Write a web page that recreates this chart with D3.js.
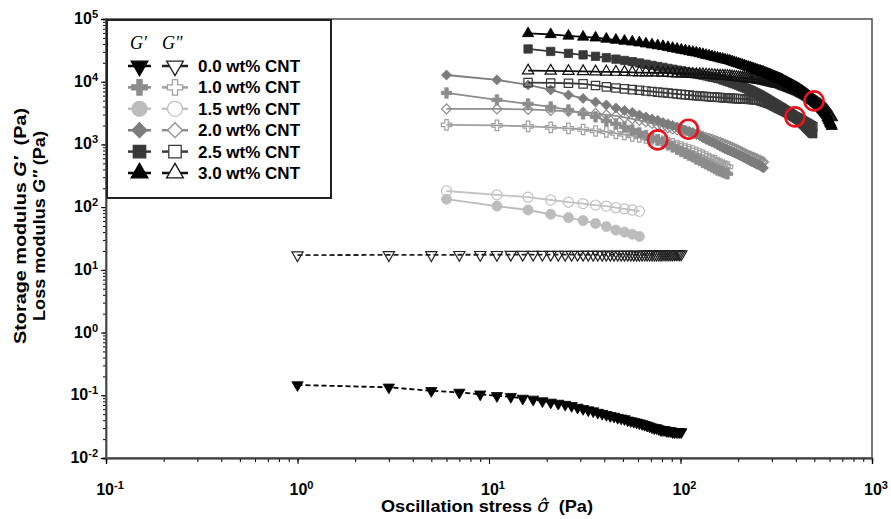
<!DOCTYPE html>
<meta charset="utf-8">
<script src="https://d3js.org/d3.v7.min.js"></script>
<style>
  body { margin: 0; background: #fff; }
  text { font-family: "Liberation Sans", Arial, sans-serif; }
</style>
<div id="chart"></div>
<script>

// ---- data ----
const concLabels = ["0.0 wt% CNT", "1.0 wt% CNT", "1.5 wt% CNT", "2.0 wt% CNT", "2.5 wt% CNT", "3.0 wt% CNT"];

// stress ramp of the neat resin (Pa)
const stressNeat = [1,3,5,7,9,11,13,15,17,19,21,23,25,27,29,31,33,35,37,39,41,43,45,47,49,51,53,55,57,59,61,63,65,67,69,71,73,75,77,79,81,83,85,87,89,91,93,95,97,99,101];
// stress ramp of the filled samples (Pa); each sample starts at its first stress
const stressCnt = [6,11,16,21,26,31,36,41,46,51,56,61,66,71,76,81,86,91,96,101,106,111,116,121,126,131,136,141,146,151,156,161,166,171,176,181,186,191,196,201,206,211,216,221,226,231,236,241,246,251,256,261,266,271,276,281,286,291,296,301,306,311,316,321,326,331,336,341,346,351,356,361,366,371,376,381,386,391,396,401,406,411,416,421,426,431,436,441,446,451,456,461,466,471,476,481,486,491,496,501,506,511,516,521,526,531,536,541,546,551,556,561,566,571,576,581,586,591,596,601,606,611,616];
const firstStress = [1, 6, 6, 6, 16, 16];

const gp00 = [0.146,0.134,0.118,0.111,0.104,0.098,0.095,0.089,0.086,0.081,0.077,0.074,0.071,0.068,0.064,0.061,0.058,0.056,0.053,0.051,0.049,0.047,0.046,0.044,0.043,0.042,0.040,0.039,0.038,0.037,0.036,0.035,0.034,0.033,0.032,0.031,0.030,0.030,0.029,0.028,0.028,0.028,0.027,0.027,0.027,0.026,0.026,0.026,0.026,0.026,0.026];
const gpp00 = [17.2,17.3,17.3,17.4,17.4,17.4,17.5,17.5,17.5,17.5,17.5,17.5,17.5,17.5,17.5,17.5,17.5,17.5,17.5,17.5,17.5,17.5,17.5,17.5,17.5,17.5,17.5,17.5,17.5,17.5,17.5,17.5,17.6,17.6,17.6,17.6,17.6,17.6,17.6,17.6,17.7,17.7,17.7,17.7,17.7,17.7,17.8,17.8,17.8,17.8,17.8];

const gp10 = [6620,5130,4430,3960,3550,3070,2750,2370,2120,1900,1700,1530,1390,1270,1180,1080,982,912,832,773,718,668,632,587,556,516,489,462,438,414,392,378,364,351,339];
const gpp10 = [2050,2010,1940,1870,1800,1730,1640,1580,1500,1440,1370,1320,1270,1220,1180,1120,1060,1020,964,912,863,817,787,745,705,668,632,598,566,546,516,489,471,454,438];

const gp15 = [134,104,90,77,68,61,55,49,43,40,37,34];
const gpp15 = [181,157,144,130,120,114,108,104,98,94,90,86];

const gp20 = [12800,10700,8890,7400,6150,5420,4760,4270,3820,3480,3240,2950,2750,2550,2420,2240,2120,2010,1900,1800,1700,1610,1530,1440,1370,1270,1200,1140,1080,1040,982,929,895,848,817,787,759,731,705,680,656,632,609,587,566,546,526,516,498,480,471,454,438,422];
const gpp20 = [3680,3680,3620,3480,3360,3240,3120,2950,2850,2700,2550,2420,2290,2160,2050,1940,1830,1770,1700,1640,1610,1580,1530,1470,1420,1340,1290,1250,1200,1160,1120,1080,1040,1000,964,929,895,863,832,802,773,745,718,693,668,656,632,621,598,587,566,556,536,526];

const gp25 = [33300,30400,28300,26800,25400,24100,22900,21800,20900,19900,19000,18200,17500,16900,16300,15800,15300,14900,14500,14100,13700,13300,13000,12700,12400,12100,11800,11600,11300,11100,10700,10400,10100,9840,9550,9310,9020,8750,8490,8240,8020,7780,7590,7380,7140,6920,6700,6500,6300,6120,5900,5710,5530,5350,5180,5020,4850,4710,4570,4440,4310,4190,4060,3960,3850,3740,3640,3540,3440,3350,3260,3170,3080,2990,2910,2820,2750,2670,2590,2520,2430,2370,2290,2200,2120,2060,1990,1910,1850,1790,1730,1670,1630,1570,1520,1480];
const gpp25 = [9680,9550,9460,9230,8710,8280,7930,7690,7480,7300,7130,6980,6820,6700,6580,6470,6370,6280,6190,6110,6030,5960,5900,5850,5810,5750,5710,5680,5640,5600,5560,5520,5500,5460,5430,5410,5380,5360,5330,5310,5280,5260,5250,5220,5200,5180,5150,5140,5080,4990,4890,4800,4710,4620,4540,4470,4370,4250,4150,4050,3940,3850,3770,3680,3600,3520,3440,3370,3290,3220,3150,3080,3010,2940,2880,2810,2750,2700,2650,2600,2550,2510,2450,2400,2350,2300,2260,2210,2170,2130,2090,2050,2010,1980,1950,1910];

const gp30 = [58900,56800,53800,51800,50200,48000,46100,44500,43200,41900,40300,38900,37700,36600,35300,34200,33100,32100,31300,30400,29600,28900,28100,27300,26500,25900,25200,24600,24000,23400,23000,22400,22000,21500,20900,20400,19800,19300,18900,18400,18000,17500,17100,16800,16400,16100,15700,15400,15100,14800,14500,14300,13900,13600,13300,13000,12800,12500,12200,12000,11700,11500,11300,11100,10800,10600,10300,10100,9840,9620,9420,9200,9000,8830,8650,8450,8280,8110,7960,7760,7570,7400,7210,7050,6870,6710,6580,6410,6250,6070,5900,5730,5580,5430,5280,5140,4990,4880,4720,4580,4450,4320,4190,4070,3950,3830,3700,3590,3470,3370,3250,3150,3050,2880,2700,2560,2420,2290,2170,2070,1950];
const gpp30 = [15000,14900,14700,14600,14500,14400,14300,14200,14100,14000,14000,13900,13900,13800,13700,13600,13500,13400,13400,13300,13200,13100,13100,13000,12900,12800,12700,12600,12500,12400,12400,12300,12200,12200,12000,11900,11800,11700,11600,11500,11400,11300,11200,11100,11000,11000,10900,10800,10700,10700,10500,10400,10300,10100,10000,9890,9770,9660,9550,9440,9350,9250,9140,9060,8890,8750,8590,8450,8320,8170,8050,7930,7800,7690,7570,7450,7330,7230,7130,7000,6850,6750,6620,6500,6380,6280,6180,6070,5930,5790,5660,5530,5420,5310,5200,5090,4980,4880,4780,4680,4590,4500,4420,4330,4240,4150,4050,3960,3860,3780,3690,3610,3540,3410,3280,3170,3060,2960,2860,2780,2690];

// G' = G'' crossover points marked with red rings
const crossStress = [76, 110, 396, 498];
const crossModulus = [1180, 1750, 2750, 4940];

const xMajor = [0.1, 1, 10, 100, 1000];
const yMajor = [0.01, 0.1, 1, 10, 100, 1000, 10000, 100000];

// ---- styles ----
const styles = [
  {shape: "tdown", colorP: "#000", colorPP: "#222", dash: "5,3", size: 55},
  {shape: "cross", colorP: "#8c8c8c", colorPP: "#a0a0a0", dash: null, size: 60},
  {shape: "circle", colorP: "#bcbcbc", colorPP: "#c2c2c2", dash: null, size: 80},
  {shape: "diamond", colorP: "#7c7c7c", colorPP: "#8e8e8e", dash: null, size: 50},
  {shape: "square", colorP: "#383838", colorPP: "#3a3a3a", dash: null, size: 70},
  {shape: "tup", colorP: "#000", colorPP: "#111", dash: null, size: 55}
];
const gpAll = [gp00, gp10, gp15, gp20, gp25, gp30];
const gppAll = [gpp00, gpp10, gpp15, gpp20, gpp25, gpp30];

function stressFor(i, n) {
  if (i === 0) return stressNeat.slice(0, n);
  const k = stressCnt.indexOf(firstStress[i]);
  return stressCnt.slice(k, k + n);
}

const series = concLabels.map(function(label, i) {
  const s = stressFor(i, gpAll[i].length);
  return {
    label: label,
    style: styles[i],
    gp: s.map((v, j) => ({s: v, g: gpAll[i][j]})),
    gpp: stressFor(i, gppAll[i].length).map((v, j) => ({s: v, g: gppAll[i][j]}))
  };
});

// ---- chart ----
const W = 891, H = 519;
const x = d3.scaleLog().domain([0.1, 1000]).range([106, 872]);
const y = d3.scaleLog().domain([0.01, 1e5]).range([458, 19]);

const svg = d3.select("#chart").append("svg")
  .attr("width", W).attr("height", H);

function symbolPath(shape, size) {
  const map = {tdown: d3.symbolTriangle, tup: d3.symbolTriangle, cross: d3.symbolCross,
    circle: d3.symbolCircle, diamond: d3.symbolSquare, square: d3.symbolSquare};
  return d3.symbol().type(map[shape]).size(size)();
}
function symbolRot(shape) {
  if (shape === "tdown") return " rotate(180)";
  if (shape === "diamond") return " rotate(45)";
  return "";
}

// minor + major ticks
const xAxisMinor = d3.axisBottom(x).tickValues(x.ticks()).tickSize(4).tickFormat("");
const xAxisMajor = d3.axisBottom(x).tickValues(xMajor).tickSize(6).tickFormat("");
const yAxisMinor = d3.axisLeft(y).tickValues(y.ticks()).tickSize(3).tickFormat("");
const yAxisMajor = d3.axisLeft(y).tickValues(yMajor).tickSize(5).tickFormat("");

svg.append("g").attr("transform", "translate(0,458)").call(xAxisMinor);
svg.append("g").attr("transform", "translate(0,458)").call(xAxisMajor);
svg.append("g").attr("transform", "translate(106,0)").call(yAxisMinor);
svg.append("g").attr("transform", "translate(106,0)").call(yAxisMajor);
svg.selectAll(".domain").attr("stroke", "#000").attr("stroke-width", 1.3);
svg.selectAll(".tick line").attr("stroke", "#000").attr("stroke-width", 1);

// frame
svg.append("rect")
  .attr("x", 106).attr("y", 19).attr("width", 766).attr("height", 439)
  .attr("fill", "none").attr("stroke", "#555").attr("stroke-width", 1.6);

// tick labels: 10^n
function powLabel(sel, e) {
  sel.append("tspan").text("10");
  sel.append("tspan").attr("dy", "-0.55em").style("font-size", "11px").text(e);
}
xMajor.forEach(function(v) {
  svg.append("text")
    .attr("x", x(v) + 4).attr("y", 495)
    .attr("text-anchor", "middle")
    .style("font-size", "16px").style("font-weight", "bold")
    .call(powLabel, Math.round(Math.log10(v)));
});
yMajor.forEach(function(v) {
  svg.append("text")
    .attr("x", 98).attr("y", y(v) + 5)
    .attr("text-anchor", "end")
    .style("font-size", "16px").style("font-weight", "bold")
    .call(powLabel, Math.round(Math.log10(v)));
});

// axis titles
svg.append("text")
  .attr("x", 487).attr("y", 512).attr("text-anchor", "middle")
  .attr("textLength", 212).attr("lengthAdjust", "spacingAndGlyphs")
  .style("font-size", "17px").style("font-weight", "bold")
  .call(function(t) {
    t.append("tspan").text("Oscillation stress ");
    t.append("tspan").style("font-style", "italic").style("font-family", "'DejaVu Sans', sans-serif")
      .style("font-weight", "normal").text("\u03C3\u0302");
    t.append("tspan").text("\u00A0\u00A0(Pa)");
  });
svg.append("text")
  .attr("transform", "translate(26,226) rotate(-90)").attr("text-anchor", "middle")
  .attr("textLength", 236).attr("lengthAdjust", "spacingAndGlyphs")
  .style("font-size", "17px").style("font-weight", "bold")
  .call(function(t) {
    t.append("tspan").text("Storage modulus ");
    t.append("tspan").style("font-style", "italic").text("G\u2032");
    t.append("tspan").text("\u00A0\u00A0(Pa)");
  });
svg.append("text")
  .attr("transform", "translate(45,226) rotate(-90)").attr("text-anchor", "middle")
  .attr("textLength", 190).attr("lengthAdjust", "spacingAndGlyphs")
  .style("font-size", "17px").style("font-weight", "bold")
  .call(function(t) {
    t.append("tspan").text("Loss modulus ");
    t.append("tspan").style("font-style", "italic").text("G\u2033");
    t.append("tspan").text("\u00A0(Pa)");
  });

// data
const line = d3.line().x(d => x(d.s)).y(d => y(d.g));
const plot = svg.append("g");

series.forEach(function(sr) {
  const st = sr.style;
  [["gpp", st.colorPP, false], ["gp", st.colorP, true]].forEach(function(cfg) {
    const pts = sr[cfg[0]];
    plot.append("path")
      .datum(pts)
      .attr("d", line)
      .attr("fill", "none")
      .attr("stroke", cfg[1])
      .attr("stroke-width", 1.8)
      .attr("stroke-dasharray", st.dash);
    plot.append("g")
      .selectAll("path")
      .data(pts)
      .join("path")
        .attr("d", symbolPath(st.shape, st.size))
        .attr("transform", d => `translate(${x(d.s)},${y(d.g)})` + symbolRot(st.shape))
        .attr("fill", cfg[2] ? cfg[1] : "none")
        .attr("stroke", cfg[1])
        .attr("stroke-width", cfg[2] ? 0.8 : 1.2);
  });
});

// crossover rings
svg.append("g")
  .selectAll("circle")
  .data(crossStress)
  .join("circle")
    .attr("cx", d => x(d))
    .attr("cy", (d, i) => y(crossModulus[i]))
    .attr("r", 9.5)
    .attr("fill", "none")
    .attr("stroke", "#e8131b")
    .attr("stroke-width", 2.6);

// legend
const lg = svg.append("g");
lg.append("rect")
  .attr("x", 107).attr("y", 20).attr("width", 224).attr("height", 178)
  .attr("fill", "#fff").attr("stroke", "#222").attr("stroke-width", 2);
lg.append("text").attr("x", 130).attr("y", 49)
  .style("font-family", "'Liberation Serif', 'Times New Roman', serif")
  .style("font-style", "italic").style("font-size", "18px").text("G\u2032");
lg.append("text").attr("x", 162).attr("y", 49)
  .style("font-family", "'Liberation Serif', 'Times New Roman', serif")
  .style("font-style", "italic").style("font-size", "18px").text("G\u2033");

series.forEach(function(sr, i) {
  const st = sr.style;
  const ry = 66 + i * 21.4;
  [[128, 151, st.colorP, true], [162, 188, st.colorPP, false]].forEach(function(c) {
    lg.append("line")
      .attr("x1", c[0]).attr("x2", c[1]).attr("y1", ry).attr("y2", ry)
      .attr("stroke", c[2]).attr("stroke-width", 2.5);
    lg.append("path")
      .attr("d", symbolPath(st.shape, st.size * 2.2))
      .attr("transform", `translate(${(c[0] + c[1]) / 2},${ry})` + symbolRot(st.shape))
      .attr("fill", c[3] ? c[2] : "#fff")
      .attr("stroke", c[2])
      .attr("stroke-width", 1.3);
  });
  lg.append("text")
    .attr("x", 198).attr("y", ry + 6)
    .style("font-size", "17px").style("font-weight", "bold")
    .text(sr.label);
});

</script>
